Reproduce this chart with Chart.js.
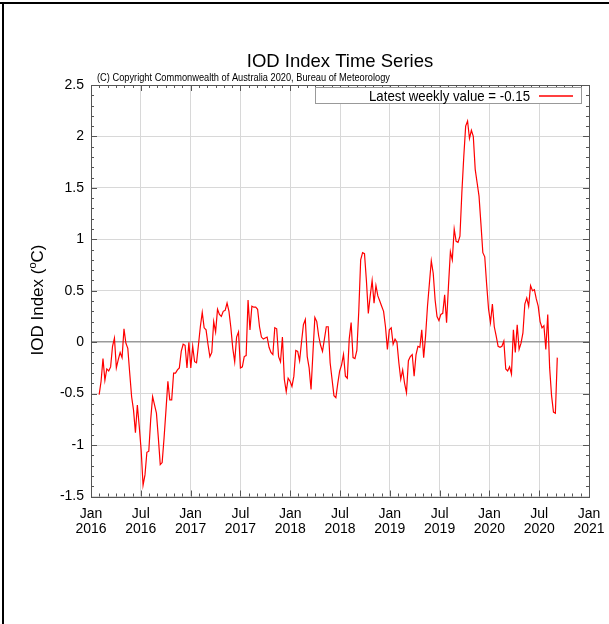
<!DOCTYPE html>
<html>
<head>
<meta charset="utf-8">
<script src="https://cdn.jsdelivr.net/npm/chart.js@4.4.0/dist/chart.umd.min.js"></script>
<style>
html, body { margin: 0; padding: 0; background: #fff; }
#wrap { position: relative; width: 609px; height: 624px; }
</style>
</head>
<body>
<div id="wrap"><canvas id="iodChart" width="609" height="624"></canvas></div>
<script>
// Weekly IOD index (first week ends late Jan 2016)
const firstWeek = 2016.082;
const weekStep = 7 / 365.25;
const iodValues = [
    -0.51, -0.38, -0.16, -0.37, -0.26, -0.28, -0.24, -0.04, 0.04, -0.25,
    -0.17, -0.10, -0.15, 0.13, -0.01, -0.06, -0.30, -0.53, -0.66, -0.88,
    -0.61, -0.82, -1.05, -1.39, -1.29, -1.07, -1.06, -0.75, -0.53, -0.61,
    -0.69, -0.93, -1.19, -1.17, -0.93, -0.66, -0.38, -0.56, -0.56, -0.30,
    -0.30, -0.27, -0.25, -0.09, -0.02, -0.03, -0.25, 0.00, -0.25, -0.04,
    -0.19, -0.20, -0.03, 0.15, 0.29, 0.14, 0.12, -0.02, -0.14, -0.10,
    0.20, 0.10, 0.32, 0.27, 0.25, 0.30, 0.31, 0.38, 0.30, 0.14,
    -0.06, -0.19, 0.05, 0.10, -0.25, -0.24, -0.14, -0.13, 0.41, 0.12,
    0.35, 0.34, 0.34, 0.32, 0.15, 0.05, 0.03, 0.04, 0.05, -0.05,
    -0.10, -0.12, 0.14, 0.13, -0.14, -0.19, 0.05, -0.36, -0.48, -0.35,
    -0.38, -0.43, -0.33, -0.08, -0.09, -0.18, 0.00, 0.17, 0.22, -0.14,
    -0.25, -0.46, -0.10, 0.24, 0.20, 0.06, -0.03, -0.09, 0.03, 0.15,
    0.15, -0.20, -0.36, -0.52, -0.54, -0.40, -0.28, -0.22, -0.12, -0.33,
    -0.35, 0.03, 0.19, -0.15, -0.16, -0.08, 0.30, 0.80, 0.87, 0.86,
    0.60, 0.28, 0.45, 0.60, 0.38, 0.55, 0.45, 0.40, 0.35, 0.30,
    0.15, -0.07, 0.12, 0.14, -0.02, 0.03, 0.00, -0.20, -0.36, -0.27,
    -0.40, -0.49, -0.18, -0.14, -0.12, -0.33, -0.12, -0.04, -0.05, 0.12,
    -0.15, 0.06, 0.35, 0.57, 0.79, 0.67, 0.41, 0.25, 0.21, 0.27,
    0.28, 0.46, 0.19, 0.55, 0.88, 0.80, 1.10, 0.98, 0.97, 1.03,
    1.45, 1.80, 2.10, 2.15, 1.98, 2.06, 2.00, 1.68, 1.55, 1.42,
    1.15, 0.87, 0.83, 0.56, 0.32, 0.19, 0.37, 0.15, 0.06, -0.04,
    -0.05, -0.04, 0.01, -0.26, -0.28, -0.24, -0.31, 0.12, -0.10, 0.17,
    -0.07, -0.01, 0.09, 0.37, 0.43, 0.35, 0.55, 0.50, 0.51, 0.42,
    0.35, 0.20, 0.14, 0.16, -0.07, 0.27, -0.25, -0.52, -0.68, -0.69,
    -0.15
];

const xTickLabels = [
    ['Jan', '2016'], ['Jul', '2016'], ['Jan', '2017'], ['Jul', '2017'],
    ['Jan', '2018'], ['Jul', '2018'], ['Jan', '2019'], ['Jul', '2019'],
    ['Jan', '2020'], ['Jul', '2020'], ['Jan', '2021']
];
const yTickLabels = ['-1.5', '-1', '-0.5', '0', '0.5', '1', '1.5', '2', '2.5'];

const chartTitle = 'IOD Index Time Series';
const copyrightText = '(C) Copyright Commonwealth of Australia 2020, Bureau of Meteorology';
const legendLabel = 'Latest weekly value = -0.15';
const lineColor = '#ff0000';

const FONT = '"Liberation Sans", Arial, Helvetica, sans-serif';

// weekly points on a decimal-year axis
const points = iodValues.map((v, i) => ({ x: firstWeek + i * weekStep, y: v }));

// Frame, minor ticks, titles and legend box
const decorPlugin = {
    id: 'decor',
    afterDraw(chart) {
        const ctx = chart.ctx;
        const area = chart.chartArea;
        const xs = chart.scales.x;
        const ys = chart.scales.y;
        ctx.save();

        // outer page frame
        ctx.fillStyle = '#000';
        ctx.fillRect(0, 2, 609, 2);
        ctx.fillRect(2, 2, 2, 622);

        // plot box
        ctx.strokeStyle = '#555';
        ctx.lineWidth = 1;
        ctx.strokeRect(Math.round(area.left) + 0.5, Math.round(area.top) + 0.5,
            Math.round(area.right - area.left), Math.round(area.bottom - area.top));

        // inward ticks on y (every 0.1)
        ctx.beginPath();
        for (let k = -15; k <= 25; k++) {
            const py = Math.round(ys.getPixelForValue(k / 10)) + 0.5;
            const len = k % 5 === 0 ? 6 : 3;
            ctx.moveTo(area.left, py); ctx.lineTo(area.left + len, py);
            ctx.moveTo(area.right, py); ctx.lineTo(area.right - len, py);
        }
        // inward ticks on x (monthly)
        for (let m = 0; m <= 60; m++) {
            const px = Math.round(xs.getPixelForValue(2016 + m / 12)) + 0.5;
            const len = m % 6 === 0 ? 6 : 3;
            ctx.moveTo(px, area.bottom); ctx.lineTo(px, area.bottom - len);
            ctx.moveTo(px, area.top); ctx.lineTo(px, area.top + len);
        }
        ctx.stroke();

        // title and copyright line
        ctx.fillStyle = '#000';
        ctx.textAlign = 'center';
        ctx.textBaseline = 'alphabetic';
        ctx.font = '18.5px ' + FONT;
        ctx.fillText(chartTitle, 340, 67);
        ctx.textAlign = 'left';
        ctx.font = '10.5px ' + FONT;
        ctx.fillText(copyrightText, 97, 80.5, 293);

        // y axis title with raised small "o"
        ctx.save();
        ctx.translate(43, 300);
        ctx.rotate(-Math.PI / 2);
        const p1 = 'IOD Index (';
        const p3 = 'C)';
        ctx.font = '17px ' + FONT;
        const w1 = ctx.measureText(p1).width;
        const w3 = ctx.measureText(p3).width;
        ctx.font = '11px ' + FONT;
        const w2 = ctx.measureText('o').width;
        const start = -(w1 + w2 + w3) / 2;
        ctx.textAlign = 'left';
        ctx.font = '17px ' + FONT;
        ctx.fillText(p1, start, 0);
        ctx.font = '11px ' + FONT;
        ctx.fillText('o', start + w1, -7);
        ctx.font = '17px ' + FONT;
        ctx.fillText(p3, start + w1 + w2, 0);
        ctx.restore();

        // legend box
        ctx.fillStyle = '#fff';
        ctx.fillRect(315.5, 87.5, 266, 16);
        ctx.strokeStyle = '#999';
        ctx.lineWidth = 1;
        ctx.strokeRect(315.5, 87.5, 266, 16);
        ctx.fillStyle = '#000';
        ctx.textAlign = 'right';
        ctx.font = '14.5px ' + FONT;
        ctx.fillText(legendLabel, 530, 101, 161);
        ctx.strokeStyle = lineColor;
        ctx.lineWidth = 1.3;
        ctx.beginPath();
        ctx.moveTo(539, 96);
        ctx.lineTo(573, 96);
        ctx.stroke();

        ctx.restore();
    }
};

new Chart(document.getElementById('iodChart'), {
    type: 'line',
    data: {
        datasets: [{
            label: legendLabel,
            data: points,
            borderColor: lineColor,
            borderWidth: 1.2,
            pointRadius: 0,
            tension: 0,
            fill: false
        }]
    },
    options: {
        responsive: false,
        animation: false,
        devicePixelRatio: 1,
        layout: { padding: { left: 0, right: 20, top: 85, bottom: 77.5 } },
        plugins: {
            legend: { display: false },
            tooltip: { enabled: false }
        },
        scales: {
            x: {
                type: 'linear',
                min: 2016,
                max: 2021,
                afterFit: s => {
                    s.height = 50;
                    // labels may overhang the plot edge, as in the original
                    s.paddingLeft = 0;
                    s.paddingRight = 0;
                },
                ticks: {
                    stepSize: 0.5,
                    autoSkip: false,
                    maxRotation: 0,
                    padding: 10,
                    color: '#000',
                    font: { family: FONT, size: 14, lineHeight: 1.1 },
                    callback: (value, index) => xTickLabels[index]
                },
                grid: { color: '#d8d8d8', drawTicks: false },
                border: { display: false }
            },
            y: {
                min: -1.5,
                max: 2.5,
                afterFit: s => { s.width = 91; },
                ticks: {
                    stepSize: 0.5,
                    padding: 7,
                    color: '#000',
                    font: { family: FONT, size: 14 },
                    callback: (value, index) => yTickLabels[index]
                },
                grid: {
                    color: ctx => ctx.tick && ctx.tick.value === 0 ? '#9a9a9a' : '#d8d8d8',
                    lineWidth: ctx => ctx.tick && ctx.tick.value === 0 ? 1.5 : 1,
                    drawTicks: false
                },
                border: { display: false }
            }
        }
    },
    plugins: [decorPlugin]
});
</script>
</body>
</html>
